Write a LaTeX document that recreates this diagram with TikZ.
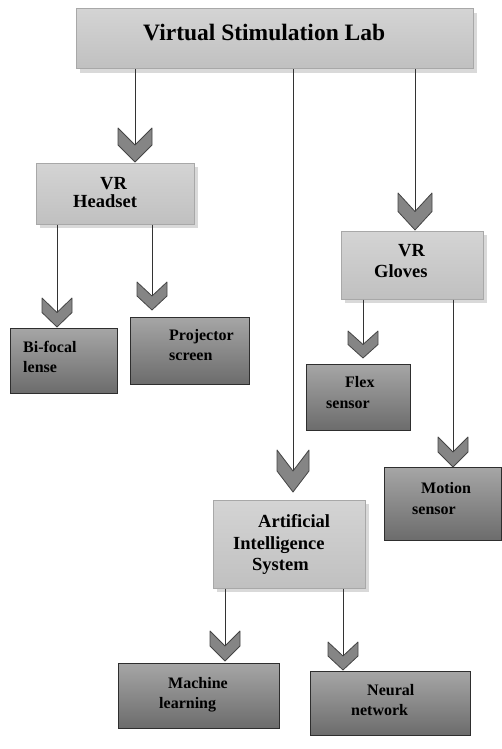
\documentclass[tikz,border=0pt]{standalone}
\usepackage{fontspec}
\setmainfont{Liberation Serif}
\usetikzlibrary{shadows}
\definecolor{lighttop}{HTML}{D4D4D4}
\definecolor{lightbot}{HTML}{C0C0C0}
\definecolor{lightrim}{HTML}{A8A8A8}
\definecolor{darktop}{HTML}{A6A6A6}
\definecolor{darkbot}{HTML}{6C6C6C}
\definecolor{darkrim}{HTML}{2E2E2E}
\definecolor{chevgray}{HTML}{858585}
\definecolor{chevrim}{HTML}{454545}
\tikzset{
  lightbox/.style={draw=lightrim, line width=1pt, top color=lighttop, bottom color=lightbot,
    drop shadow={shadow xshift=4pt, shadow yshift=-4pt, opacity=.3, fill=gray}},
  darkbox/.style={draw=darkrim, line width=1pt, top color=darktop, bottom color=darkbot},
  link/.style={draw=black!80, line width=.8pt},
  chevfill/.style={fill=chevgray, draw=chevrim, line width=.8pt, line join=round},
  boxtext/.style={anchor=north west, inner sep=0pt, align=left, font=\bfseries},
  pics/chev/.style args={#1/#2}{code={
    \filldraw[chevfill] (0,0) -- (-#1,-#2/2) -- (-#1,-#2) -- (0,-#2/2) -- (#1,-#2) -- (#1,-#2/2) -- cycle;}}
}
\begin{document}
\begin{tikzpicture}[x=1pt,y=-1pt]
\useasboundingbox (0,0) rectangle (502,749);

\node[lightbox, minimum width=397pt, minimum height=60pt] (lab) at (274.5,39) {};
\node[lightbox, minimum width=158pt, minimum height=61pt] (hs) at (115,193.5) {};
\node[lightbox, minimum width=142pt, minimum height=68pt] (gl) at (412,265) {};
\node[lightbox, minimum width=152pt, minimum height=88pt] (ai) at (289,544) {};
\node[darkbox, minimum width=107pt, minimum height=65pt] (bf) at (63.5,360.5) {};
\node[darkbox, minimum width=119pt, minimum height=67pt] (pj) at (189.5,350.5) {};
\node[darkbox, minimum width=104pt, minimum height=66pt] (fx) at (358,397) {};
\node[darkbox, minimum width=117pt, minimum height=73pt] (mo) at (442.5,503.5) {};
\node[darkbox, minimum width=161pt, minimum height=65pt] (ml) at (198.5,695.5) {};
\node[darkbox, minimum width=160pt, minimum height=64pt] (nn) at (390,703) {};

\node[anchor=base west, inner sep=0pt, font=\fontsize{23.5}{26}\selectfont\bfseries] (lab-t) at (143,41) {Virtual Stimulation Lab};
\node[boxtext, font=\fontsize{18.5}{18}\selectfont\bfseries] (hs-t) at (73,177.5) {\hspace*{27pt}VR\\Headset};
\node[boxtext, font=\fontsize{18.5}{21}\selectfont\bfseries] (gl-t) at (374,244.5) {\hspace*{24pt}VR\\Gloves};
\node[boxtext, font=\fontsize{18.5}{21.5}\selectfont\bfseries] (ai-t) at (233,514.5) {\hspace*{25pt}Artificial\\Intelligence\\\hspace*{19pt}System};
\node[boxtext, font=\fontsize{16}{20}\selectfont\bfseries] (bf-t) at (23,341) {Bi-focal\\lense};
\node[boxtext, font=\fontsize{16}{20}\selectfont\bfseries] (pj-t) at (169,329) {Projector\\screen};
\node[boxtext, font=\fontsize{16}{21}\selectfont\bfseries] (fx-t) at (326,376) {\hspace*{19pt}Flex\\sensor};
\node[boxtext, font=\fontsize{16}{21}\selectfont\bfseries] (mo-t) at (412,482) {\hspace*{9pt}Motion\\sensor};
\node[boxtext, font=\fontsize{16}{20}\selectfont\bfseries] (ml-t) at (159,677) {\hspace*{9pt}Machine\\learning};
\node[boxtext, font=\fontsize{16}{20}\selectfont\bfseries] (nn-t) at (351,684) {\hspace*{16pt}Neural\\network};

\coordinate (t1) at (135,162);
\coordinate (t2) at (293,492);
\coordinate (t3) at (415,230);
\coordinate (t4) at (57,327);
\coordinate (t5) at (152,310);
\coordinate (t6) at (363,358);
\coordinate (t7) at (453,467);
\coordinate (t8) at (225,661);
\coordinate (t9) at (343,670);

\draw[link] (lab.south -| t1) -- (t1);
\draw[link] (lab.south -| t2) -- (t2);
\draw[link] (lab.south -| t3) -- (t3);
\draw[link] (hs.south -| t4) -- (t4);
\draw[link] (hs.south -| t5) -- (t5);
\draw[link] (gl.south -| t6) -- (t6);
\draw[link] (gl.south -| t7) -- (t7);
\draw[link] (ai.south -| t8) -- (t8);
\draw[link] (ai.south -| t9) -- (t9);

\pic at (t1) {chev=17/34};
\pic at (t2) {chev=16/42};
\pic at (t3) {chev=17/37};
\pic at (t4) {chev=15/29};
\pic at (t5) {chev=15/28};
\pic at (t6) {chev=15/27};
\pic at (t7) {chev=15/30};
\pic at (t8) {chev=15/30};
\pic at (t9) {chev=15/28};
\end{tikzpicture}
\end{document}
